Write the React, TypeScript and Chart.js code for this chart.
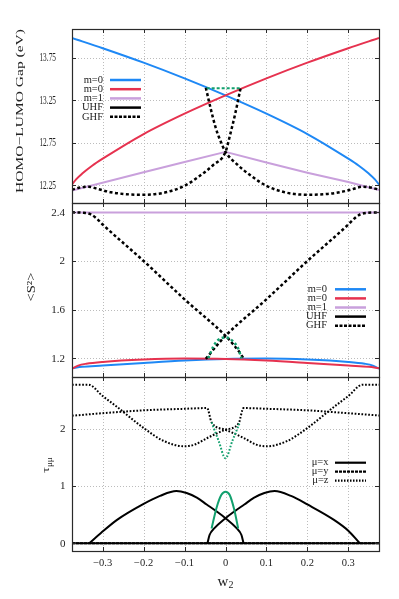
import React, { useEffect, useRef } from 'react';
import { Chart, registerables } from 'chart.js';

Chart.register(...registerables);

const FONT = "'Liberation Serif', 'DejaVu Serif', serif";
const TEXT = '#222';
const BLUE = '#1e88f5';
const RED = '#e6324f';
const LILAC = '#c9a0dc';
const GREEN = '#12a06e';
const BLACK = '#000000';

// ---------- shared x axis ----------
const xMin = -0.375;
const xMax = 0.375;
const xTicks = [-0.3, -0.2, -0.1, 0, 0.1, 0.2, 0.3];
const xTickLabels = ['−0.3', '−0.2', '−0.1', '0', '0.1', '0.2', '0.3'];

// ---------- panel 1 : HOMO-LUMO gap ----------
const gapTicks = [12.25, 12.75, 13.25, 13.75];
const gapTickLabels = ['12.25', '12.75', '13.25', '13.75'];
const gapBlueX = [-0.375, -0.3, -0.2, -0.1, 0, 0.1, 0.2, 0.3, 0.325, 0.35, 0.365, 0.375];
const gapBlueY = [13.985, 13.865, 13.695, 13.51, 13.31, 13.095, 12.855, 12.565, 12.485, 12.39, 12.322, 12.26];
const gapRedX = [-0.375, -0.365, -0.35, -0.325, -0.3, -0.2, -0.1, 0, 0.1, 0.2, 0.3, 0.375];
const gapRedY = [12.26, 12.322, 12.39, 12.485, 12.565, 12.855, 13.095, 13.31, 13.51, 13.695, 13.865, 13.985];
const gapM1X = [-0.375, -0.2, -0.1, 0, 0.1, 0.2, 0.3, 0.375];
const gapM1Y = [12.19, 12.405, 12.525, 12.645, 12.52, 12.4, 12.29, 12.195];
const gapGhfAX = [-0.375, -0.355, -0.335, -0.31, -0.28, -0.25, -0.21, -0.17, -0.14, -0.1, -0.065, -0.03, 0, 0.012, 0.024, 0.037];
const gapGhfAY = [12.2, 12.225, 12.235, 12.205, 12.17, 12.15, 12.14, 12.148, 12.175, 12.245, 12.355, 12.49, 12.645, 12.86, 13.1, 13.4];
const gapGhfBX = [-0.048, -0.036, -0.024, -0.012, 0, 0.03, 0.065, 0.1, 0.14, 0.17, 0.21, 0.25, 0.28, 0.31, 0.335, 0.355, 0.375];
const gapGhfBY = [13.4, 13.15, 12.93, 12.77, 12.645, 12.49, 12.355, 12.245, 12.175, 12.148, 12.14, 12.15, 12.17, 12.205, 12.235, 12.225, 12.2];
const gapGreenX = [-0.046, 0.036];
const gapGreenY = [13.395, 13.395];

// ---------- panel 2 : <S^2> ----------
const s2Ticks = [1.2, 1.6, 2, 2.4];
const s2TickLabels = ['1.2', '1.6', '2', '2.4'];
const s2M1X = [-0.375, 0.375];
const s2M1Y = [2.399, 2.399];
const s2RedX = [-0.375, -0.36, -0.34, -0.3, -0.2, -0.1, 0, 0.1, 0.2, 0.3, 0.35, 0.375];
const s2RedY = [1.115, 1.14, 1.155, 1.17, 1.19, 1.198, 1.195, 1.182, 1.162, 1.14, 1.13, 1.118];
const s2BlueX = [-0.375, -0.35, -0.3, -0.2, -0.1, 0, 0.1, 0.2, 0.3, 0.34, 0.36, 0.375];
const s2BlueY = [1.118, 1.13, 1.14, 1.162, 1.182, 1.195, 1.198, 1.19, 1.17, 1.155, 1.14, 1.115];
const s2GhfCX = [-0.375, -0.345, -0.33, -0.315, -0.3, -0.2, -0.1, 0, 0.02, 0.035, 0.045];
const s2GhfCY = [2.4, 2.396, 2.385, 2.35, 2.3, 2.0, 1.685, 1.385, 1.31, 1.245, 1.195];
const s2GhfDX = [-0.048, -0.036, -0.02, 0, 0.1, 0.2, 0.3, 0.315, 0.33, 0.345, 0.375];
const s2GhfDY = [1.195, 1.245, 1.31, 1.385, 1.685, 2.0, 2.3, 2.35, 2.385, 2.396, 2.4];
const s2GreenX = [-0.042, -0.03, -0.018, 0, 0.019, 0.031, 0.039];
const s2GreenY = [1.2, 1.296, 1.35, 1.372, 1.337, 1.28, 1.2];

// ---------- panel 3 : tau ----------
const tauTicks = [0, 1, 2];
const tauTickLabels = ['0', '1', '2'];
const tauZ1X = [-0.375, -0.335, -0.3, -0.265, -0.2, -0.15, -0.1, -0.075, -0.046, 0, 0.032, 0.044, 0.1, 0.2, 0.3, 0.375];
const tauZ1Y = [2.78, 2.78, 2.58, 2.39, 2.02, 1.79, 1.7, 1.73, 1.84, 1.99, 2.1, 2.37, 2.357, 2.33, 2.28, 2.24];
const tauZ2X = [-0.375, -0.3, -0.2, -0.1, -0.045, -0.034, 0, 0.046, 0.075, 0.1, 0.15, 0.2, 0.265, 0.3, 0.335, 0.375];
const tauZ2Y = [2.235, 2.28, 2.33, 2.357, 2.37, 2.12, 1.99, 1.84, 1.73, 1.7, 1.79, 2.02, 2.39, 2.58, 2.78, 2.78];
const tauX1X = [-0.333, -0.305, -0.265, -0.2, -0.16, -0.12, -0.095, -0.07, -0.046, -0.022, 0, 0.027, 0.039, 0.044];
const tauX1Y = [0, 0.175, 0.41, 0.69, 0.83, 0.915, 0.88, 0.8, 0.68, 0.56, 0.44, 0.265, 0.145, 0];
const tauX2X = [-0.044, -0.039, -0.027, 0, 0.022, 0.046, 0.07, 0.095, 0.12, 0.16, 0.2, 0.265, 0.3, 0.328];
const tauX2Y = [0, 0.145, 0.265, 0.44, 0.56, 0.68, 0.8, 0.88, 0.915, 0.83, 0.68, 0.41, 0.22, 0];
const tauXZeroX = [-0.375, 0.375];
const tauXZeroY = [0, 0];
const tauYX = [-0.375, 0.375];
const tauYY = [0, 0];
const tauGreenHumpX = [-0.034, -0.022, -0.01, 0, 0.01, 0.021, 0.031];
const tauGreenHumpY = [0.26, 0.62, 0.85, 0.905, 0.85, 0.6, 0.26];
const tauGreenVX = [-0.034, -0.017, 0, 0.017, 0.034];
const tauGreenVY = [2.12, 1.8, 1.49, 1.8, 2.1];

// ---------- legends ----------
const legend1Labels = ['m=0', 'm=0', 'm=1', 'UHF', 'GHF'];
const legend3Labels = ['μ=x', 'μ=y', 'μ=z'];

const pts = (xs: number[], ys: number[]) => xs.map((x, i) => ({ x, y: ys[i] }));

function line(xs: number[], ys: number[], color: string, width: number, dash: number[] = [], smooth = true) {
  return {
    data: pts(xs, ys),
    borderColor: color,
    borderWidth: width,
    borderDash: dash,
    borderCapStyle: 'butt',
    borderJoinStyle: 'round',
    pointRadius: 0,
    fill: false,
    tension: 0,
    cubicInterpolationMode: smooth ? 'monotone' : 'default',
  };
}

type LegendItem = { label: string; color: string; dash: number[]; width: number };

type PanelCfg = {
  id: string;
  top: number;
  bottom: number;
  yMin: number;
  yMax: number;
  yTicks: number[];
  yTickLabels: string[];
  yLabelRight: number;
  yLabelFont: number;
  yLabelScale: number;
  showX: boolean;
  legend: { items: LegendItem[]; right: number; x0: number; x1: number; y0: number; dy: number };
  title: (ctx: CanvasRenderingContext2D) => void;
  datasets: any[];
};

function rotatedText(ctx: CanvasRenderingContext2D, text: string, cx: number, cy: number, size: number, length: number, thick: number) {
  ctx.save();
  ctx.translate(cx, cy);
  ctx.rotate(-Math.PI / 2);
  ctx.font = `${size}px ${FONT}`;
  const w = ctx.measureText(text).width;
  ctx.scale(length / w, thick);
  ctx.textAlign = 'center';
  ctx.textBaseline = 'middle';
  ctx.fillStyle = TEXT;
  ctx.fillText(text, 0, 0);
  ctx.restore();
}

const legendLines1: LegendItem[] = [
  { label: legend1Labels[0], color: BLUE, dash: [], width: 2.5 },
  { label: legend1Labels[1], color: RED, dash: [], width: 2.5 },
  { label: legend1Labels[2], color: LILAC, dash: [], width: 2.5 },
  { label: legend1Labels[3], color: BLACK, dash: [], width: 2.5 },
  { label: legend1Labels[4], color: BLACK, dash: [3, 1.5], width: 2.5 },
];

const legendLines3: LegendItem[] = [
  { label: legend3Labels[0], color: BLACK, dash: [], width: 2.2 },
  { label: legend3Labels[1], color: BLACK, dash: [3, 1], width: 2.2 },
  { label: legend3Labels[2], color: BLACK, dash: [1.5, 1.5], width: 2.2 },
];

const panels: PanelCfg[] = [
  {
    id: 'gap',
    top: 29,
    bottom: 203,
    yMin: 12.043,
    yMax: 14.091,
    yTicks: gapTicks,
    yTickLabels: gapTickLabels,
    yLabelRight: 56,
    yLabelFont: 11.5,
    yLabelScale: 0.64,
    showX: false,
    legend: { items: legendLines1, right: 103, x0: 110, x1: 141, y0: 80, dy: 9.2 },
    title: (ctx) => rotatedText(ctx, 'HOMO−LUMO Gap (eV)', 20, 111, 16, 164, 0.7),
    datasets: [
      line(gapGreenX, gapGreenY, GREEN, 2, [3, 2], false),
      line(gapGhfAX, gapGhfAY, BLACK, 2.5, [3, 2.5]),
      line(gapGhfBX, gapGhfBY, BLACK, 2.5, [3, 2.5]),
      line(gapRedX, gapRedY, RED, 2),
      line(gapBlueX, gapBlueY, BLUE, 2),
      line(gapM1X, gapM1Y, LILAC, 2, [], false),
    ],
  },
  {
    id: 's2',
    top: 203,
    bottom: 377,
    yMin: 1.046,
    yMax: 2.477,
    yTicks: s2Ticks,
    yTickLabels: s2TickLabels,
    yLabelRight: 65,
    yLabelFont: 10.5,
    yLabelScale: 1.05,
    showX: false,
    legend: { items: legendLines1, right: 327, x0: 335, x1: 366, y0: 289.3, dy: 9.1 },
    title: (ctx) => rotatedText(ctx, '<S²>', 32, 287, 15, 29, 0.8),
    datasets: [
      line(s2GreenX, s2GreenY, GREEN, 2.5, [2.5, 2.5]),
      line(s2GhfCX, s2GhfCY, BLACK, 2.5, [3, 2.5]),
      line(s2GhfDX, s2GhfDY, BLACK, 2.5, [3, 2.5]),
      line(s2RedX, s2RedY, RED, 2),
      line(s2BlueX, s2BlueY, BLUE, 2),
      line(s2M1X, s2M1Y, LILAC, 2, [], false),
    ],
  },
  {
    id: 'tau',
    top: 377,
    bottom: 551,
    yMin: -0.135,
    yMax: 2.914,
    yTicks: tauTicks,
    yTickLabels: tauTickLabels,
    yLabelRight: 65.5,
    yLabelFont: 10.5,
    yLabelScale: 1.05,
    showX: true,
    legend: { items: legendLines3, right: 328.5, x0: 335, x1: 366, y0: 462.7, dy: 9 },
    title: (ctx) => {
      ctx.save();
      ctx.translate(47, 465);
      ctx.rotate(-Math.PI / 2);
      ctx.scale(1, 0.8);
      ctx.fillStyle = TEXT;
      ctx.textBaseline = 'alphabetic';
      ctx.textAlign = 'left';
      ctx.font = `14px ${FONT}`;
      const tw = ctx.measureText('τ').width;
      ctx.font = `9px ${FONT}`;
      const sw = ctx.measureText('μμ').width;
      const start = -(tw + sw) / 2;
      ctx.font = `14px ${FONT}`;
      ctx.fillText('τ', start, 3);
      ctx.font = `9px ${FONT}`;
      ctx.fillText('μμ', start + tw, 6);
      ctx.restore();
      // x axis title
      ctx.save();
      ctx.fillStyle = TEXT;
      ctx.textBaseline = 'alphabetic';
      ctx.textAlign = 'left';
      ctx.font = `15px ${FONT}`;
      ctx.fillText('w', 217.5, 585.5);
      ctx.font = `10px ${FONT}`;
      ctx.fillText('2', 228.5, 588);
      ctx.restore();
    },
    datasets: [
      line(tauGreenHumpX, tauGreenHumpY, GREEN, 2),
      line(tauGreenVX, tauGreenVY, GREEN, 2, [1.7, 1.7]),
      line(tauX1X, tauX1Y, BLACK, 2),
      line(tauX2X, tauX2Y, BLACK, 2),
      line(tauXZeroX, tauXZeroY, BLACK, 2, [], false),
      line(tauYX, tauYY, BLACK, 2, [3, 1], false),
      line(tauZ1X, tauZ1Y, BLACK, 2, [1.7, 1.7]),
      line(tauZ2X, tauZ2Y, BLACK, 2, [1.7, 1.7]),
    ],
  },
];

function framePlugin(cfg: PanelCfg) {
  return {
    id: 'frame_' + cfg.id,
    beforeDatasetsDraw(chart: any) {
      const { ctx, chartArea: a, scales } = chart;
      ctx.save();
      ctx.strokeStyle = '#bcbcbc';
      ctx.lineWidth = 1;
      ctx.setLineDash([1, 2]);
      xTicks.forEach((v) => {
        const px = Math.round(scales.x.getPixelForValue(v)) + 0.5;
        ctx.beginPath();
        ctx.moveTo(px, a.top);
        ctx.lineTo(px, a.bottom);
        ctx.stroke();
      });
      cfg.yTicks.forEach((v) => {
        const py = Math.round(scales.y.getPixelForValue(v)) + 0.5;
        ctx.beginPath();
        ctx.moveTo(a.left, py);
        ctx.lineTo(a.right, py);
        ctx.stroke();
      });
      ctx.restore();
    },
    afterDatasetsDraw(chart: any) {
      const { ctx, chartArea: a, scales } = chart;
      ctx.save();
      // frame
      ctx.strokeStyle = '#2a2a2a';
      ctx.lineWidth = 1.2;
      ctx.setLineDash([]);
      ctx.strokeRect(Math.round(a.left) + 0.5, Math.round(a.top) + 0.5, Math.round(a.right - a.left), Math.round(a.bottom - a.top));
      // inward ticks
      ctx.lineWidth = 1;
      xTicks.forEach((v) => {
        const px = Math.round(scales.x.getPixelForValue(v)) + 0.5;
        ctx.beginPath();
        ctx.moveTo(px, a.top);
        ctx.lineTo(px, a.top + 4);
        ctx.moveTo(px, a.bottom);
        ctx.lineTo(px, a.bottom - 4);
        ctx.stroke();
      });
      cfg.yTicks.forEach((v) => {
        const py = Math.round(scales.y.getPixelForValue(v)) + 0.5;
        ctx.beginPath();
        ctx.moveTo(a.left, py);
        ctx.lineTo(a.left + 4, py);
        ctx.moveTo(a.right, py);
        ctx.lineTo(a.right - 4, py);
        ctx.stroke();
      });
      // y tick labels
      ctx.fillStyle = TEXT;
      ctx.textAlign = 'right';
      ctx.textBaseline = 'middle';
      ctx.font = `${cfg.yLabelFont}px ${FONT}`;
      cfg.yTicks.forEach((v, i) => {
        const py = scales.y.getPixelForValue(v);
        ctx.save();
        ctx.translate(cfg.yLabelRight, py + 0.5);
        ctx.scale(cfg.yLabelScale, 1);
        ctx.fillText(cfg.yTickLabels[i], 0, 0);
        ctx.restore();
      });
      // x tick labels
      if (cfg.showX) {
        ctx.textAlign = 'center';
        ctx.textBaseline = 'middle';
        ctx.font = `10.5px ${FONT}`;
        xTicks.forEach((v, i) => {
          const px = scales.x.getPixelForValue(v);
          ctx.fillText(xTickLabels[i], px, 563.5);
        });
      }
      // legend
      const lg = cfg.legend;
      lg.items.forEach((it, i) => {
        const y = lg.y0 + i * lg.dy;
        ctx.fillStyle = TEXT;
        ctx.textAlign = 'right';
        ctx.textBaseline = 'middle';
        ctx.font = `10.5px ${FONT}`;
        ctx.fillText(it.label, lg.right, y);
        ctx.strokeStyle = it.color;
        ctx.lineWidth = it.width;
        ctx.setLineDash(it.dash);
        ctx.beginPath();
        ctx.moveTo(lg.x0, y);
        ctx.lineTo(lg.x1, y);
        ctx.stroke();
      });
      ctx.setLineDash([]);
      ctx.restore();
      cfg.title(ctx);
    },
  };
}

function Panel({ cfg }: { cfg: PanelCfg }) {
  const ref = useRef<HTMLCanvasElement>(null);
  useEffect(() => {
    if (!ref.current) return;
    const chart = new Chart(ref.current, {
      type: 'line',
      data: { datasets: cfg.datasets as any },
      options: {
        animation: false,
        responsive: false,
        maintainAspectRatio: false,
        parsing: false as any,
        events: [],
        layout: { padding: { left: 72, right: 20, top: cfg.top, bottom: 599 - cfg.bottom } },
        plugins: { legend: { display: false }, tooltip: { enabled: false }, title: { display: false } },
        scales: {
          x: { type: 'linear', min: xMin, max: xMax, display: false },
          y: { type: 'linear', min: cfg.yMin, max: cfg.yMax, display: false },
        },
      } as any,
      plugins: [framePlugin(cfg) as any],
    });
    return () => chart.destroy();
  }, [cfg]);
  return (
    <canvas
      ref={ref}
      width={399}
      height={599}
      style={{ position: 'absolute', left: 0, top: 0, width: 399, height: 599 }}
    />
  );
}

export default function App() {
  return (
    <div style={{ position: 'fixed', left: 0, top: 0, width: 399, height: 599, background: '#ffffff', overflow: 'hidden' }}>
      {panels.map((p) => (
        <Panel key={p.id} cfg={p} />
      ))}
    </div>
  );
}
